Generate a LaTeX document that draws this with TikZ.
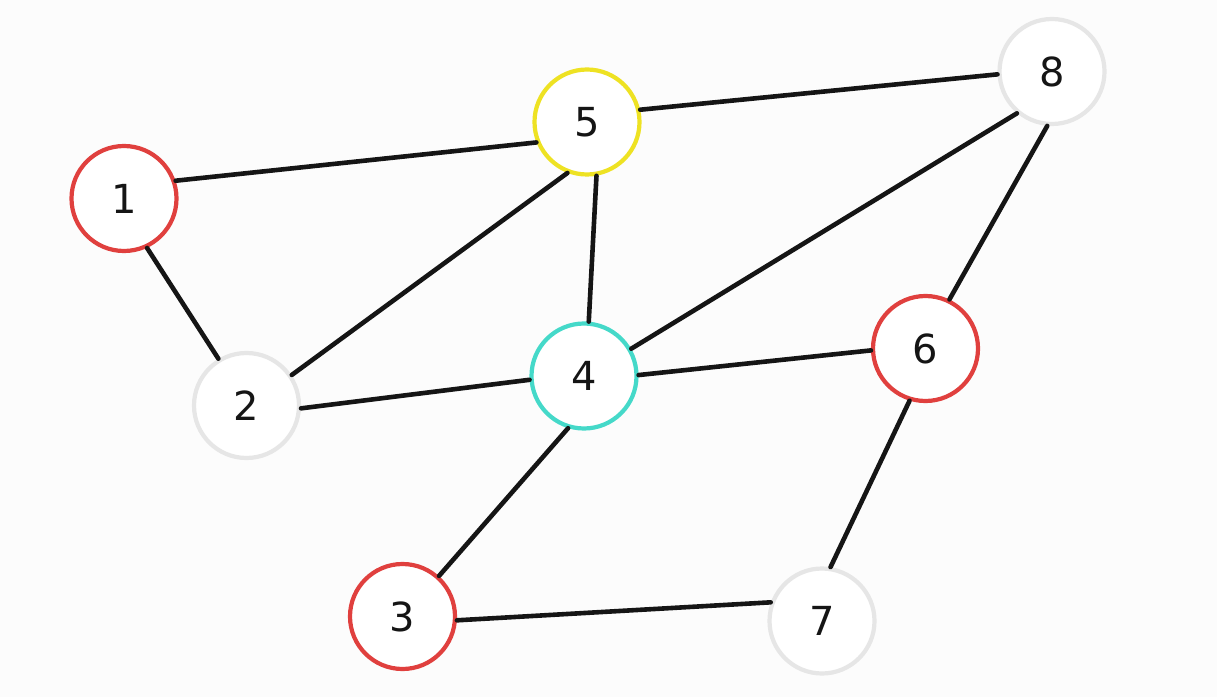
\documentclass[tikz,border=0pt]{standalone}
\usepackage{fontspec}
\setmainfont{DejaVu Sans}
\definecolor{bg}{HTML}{FCFCFC}
\definecolor{cred}{HTML}{E0403E}
\definecolor{cyel}{HTML}{EEE223}
\definecolor{ccyan}{HTML}{45D9C9}
\definecolor{cgray}{HTML}{E6E6E6}
\definecolor{ink}{HTML}{151515}
\begin{document}
\begin{tikzpicture}[x=1pt,y=1pt,
  vert/.style={circle,draw,line width=4.2pt,minimum size=105pt,inner sep=0pt,fill=white,
    font=\fontsize{40}{40}\selectfont,text=ink},
  edge/.style={line width=4.6pt,draw=ink,line cap=round}]
\fill[bg] (0,0) rectangle (1217,697);
\useasboundingbox (0,0) rectangle (1217,697);
\node[vert,draw=cred]  (n1) at (124,498.5) {1};
\node[vert,draw=cyel]  (n5) at (587,575) {5};
\node[vert,draw=cgray] (n8) at (1052,625.5) {8};
\node[vert,draw=cgray] (n2) at (246.5,291.5) {2};
\node[vert,draw=ccyan] (n4) at (584,321) {4};
\node[vert,draw=cred]  (n6) at (925.5,348.5) {6};
\node[vert,draw=cred]  (n3) at (402.5,80.5) {3};
\node[vert,draw=cgray] (n7) at (822,76) {7};
\draw[edge] (n1.19.6) -- (n5.202);
\draw[edge] (n1.-65) -- (n2.121);
\draw[edge] (n2.34) -- (n5.249);
\draw[edge] (n2.-3) -- (n4.184);
\draw[edge] (n5.-80) -- (n4.85);
\draw[edge] (n5.13.5) -- (n8.183.5);
\draw[edge] (n4.30.6) -- (n8.230.4);
\draw[edge] (n4.1) -- (n6.182.6);
\draw[edge] (n8.265.5) -- (n6.64.6);
\draw[edge] (n4.253.5) -- (n3.48.6);
\draw[edge] (n3.-4.8) -- (n7.160.9);
\draw[edge] (n6.253.6) -- (n7.81.4);
\end{tikzpicture}
\end{document}
